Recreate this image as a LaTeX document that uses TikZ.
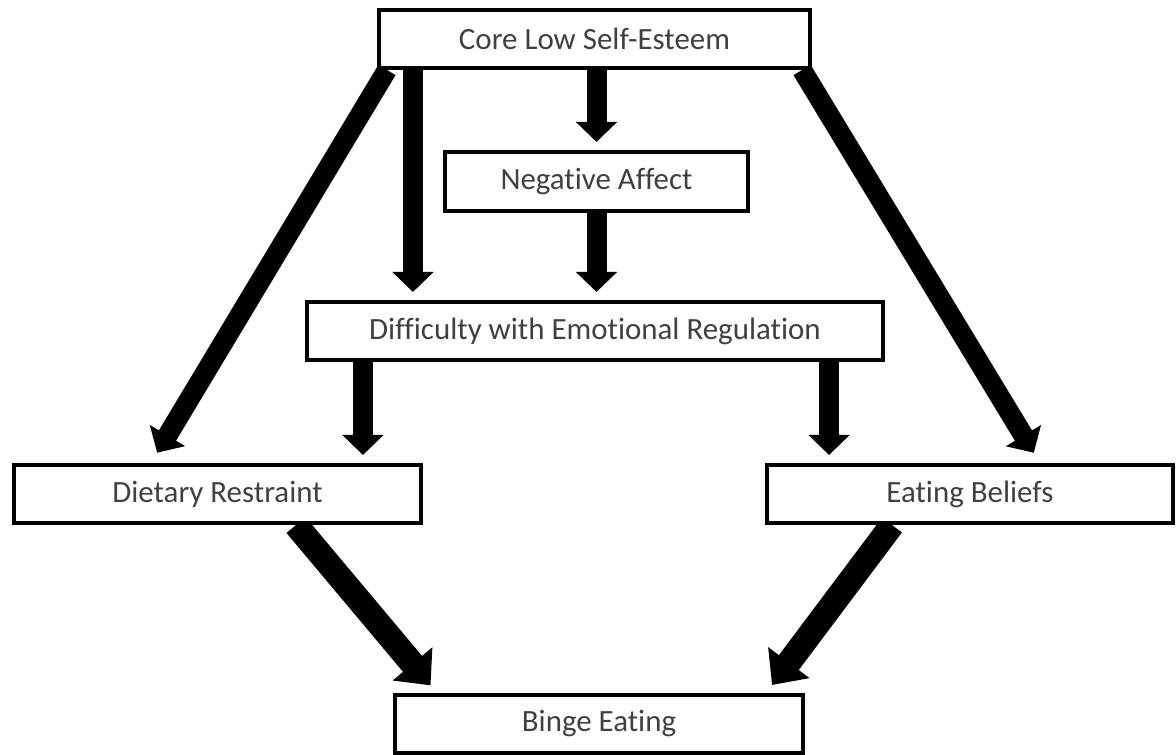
\documentclass[tikz,border=0pt]{standalone}
\usepackage{fontspec}
\setmainfont{Carlito}[Ligatures=NoCommon]
\usetikzlibrary{arrows.meta,backgrounds}
\definecolor{textgray}{RGB}{64,64,64}
\begin{document}
\begin{tikzpicture}[x=0.025cm, y=-0.025cm,
  every node/.style = {shape=rectangle, draw, fill=white, line width=0.1cm,
    align=center, inner sep=0pt, minimum height=1.45cm, text=textgray,
    font=\fontsize{22}{26}\selectfont},
  flow/.style = {line width=0.5cm, shorten >=0.2cm,
    -{Triangle[width=1cm, length=0.5cm]}},
  slant/.style = {flow, shorten >=0.3cm},
  bigflow/.style = {line width=0.62cm, shorten >=0.25cm,
    -{Triangle[width=1.25cm, length=0.7cm]}}]
\useasboundingbox (0,0) rectangle (1176,755);
\node[minimum width=10.775cm] (core) at (594.5,39) {Core Low Self-Esteem};
\node[minimum width=7.575cm, minimum height=1.475cm] (neg) at (596.5,181.5) {Negative Affect};
\node[minimum width=14.4cm] (diff) at (595,331) {Difficulty with Emotional Regulation};
\node[minimum width=10.175cm] (diet) at (217.5,494) {Dietary Restraint};
\node[minimum width=10.15cm] (beliefs) at (970,494) {Eating Beliefs};
\node[minimum width=10.2cm] (binge) at (599,724) {Binge Eating};
\coordinate (c1) at ([xshift=0.9cm]core.south west);
\coordinate (d1) at ([xshift=1.45cm]diff.south west);
\coordinate (d2) at ([xshift=-1.4cm]diff.south east);
\begin{scope}[on background layer]
\draw[flow] (neg.north |- core.south) -- (neg.north);
\draw[flow] (c1) -- (c1 |- diff.north);
\draw[flow] (neg.south) -- (neg.south |- diff.north);
\draw[flow] (d1) -- (d1 |- diet.north);
\draw[flow] (d2) -- (d2 |- beliefs.north);
\draw[slant] ([xshift=0.25cm]core.south west) -- ([xshift=3.475cm]diet.north west);
\draw[slant] ([xshift=-0.25cm]core.south east) -- ([xshift=-3.375cm]beliefs.north east);
\draw[bigflow] ([xshift=-3.175cm]diet.south east) -- ([xshift=1.1cm]binge.north west);
\draw[bigflow] ([xshift=3.175cm]beliefs.south west) -- ([xshift=-0.975cm]binge.north east);
\end{scope}
\end{tikzpicture}
\end{document}
